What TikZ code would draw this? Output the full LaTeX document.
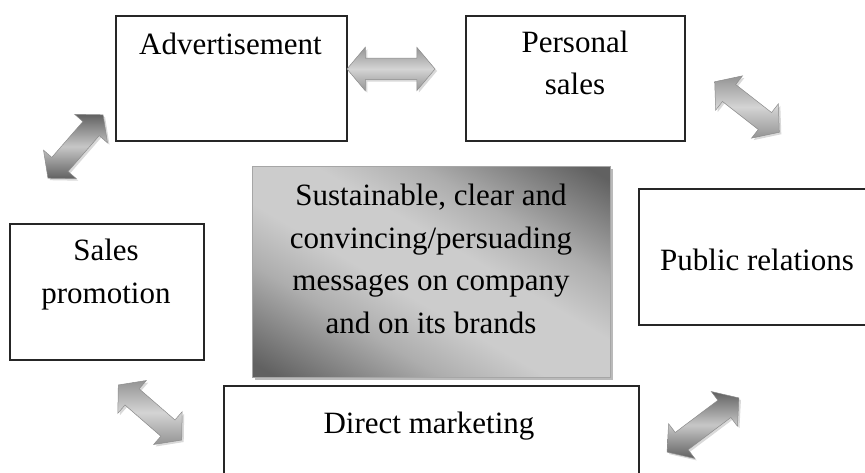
\documentclass[tikz,border=0pt]{standalone}
\usepackage{fontspec}
\setmainfont{Liberation Serif}
\usetikzlibrary{positioning, shapes.arrows, shadows}

\pgfdeclarehorizontalshading{msgshade}{100bp}{color(0bp)=(black!62); color(18bp)=(black!62);
  color(34bp)=(black!32); color(44bp)=(black!20); color(56bp)=(black!20);
  color(66bp)=(black!32); color(82bp)=(black!62); color(100bp)=(black!62)}

\tikzset{
  box/.style={draw=black!85, line width=1.6pt, fill=white, anchor=north west, inner sep=0pt},
  core/.style={draw=gray!70, line width=0.8pt, anchor=north west, inner sep=0pt,
    shading=msgshade, shading angle=59.5,
    drop shadow={shadow xshift=3pt, shadow yshift=-3pt, opacity=0.45, fill=black!60}},
  txt/.style={anchor=base, align=center, inner sep=0pt},
  dblarrow/.style={double arrow, draw=black!45, line width=0.5pt, inner xsep=0pt, inner ysep=10.5pt,
    double arrow head extend=11pt, double arrow tip angle=100,
    top color=black!42, bottom color=black!42, middle color=black!17,
    drop shadow={shadow xshift=2pt, shadow yshift=-2pt, opacity=0.3}},
  darkarrow/.style={dblarrow, top color=black!62, bottom color=black!62, middle color=black!22}
}

\begin{document}
\begin{tikzpicture}[x=1pt, y=-1pt, font=\fontsize{31}{42.5}\selectfont]
  \useasboundingbox (0,0) rectangle (865,473);
  % boxes
  \node[box, minimum width=231pt, minimum height=125pt] (adv) at (115,15) {};
  \node[box, minimum width=219pt, minimum height=125pt] (sales) at (465,15) {};
  \node[box, minimum width=240pt, minimum height=136pt] (pr) at (638,188) {};
  \node[box, minimum width=194pt, minimum height=136pt] (promo) at (9,223) {};
  \node[box, minimum width=415pt, minimum height=110pt] (direct) at (223,385) {};
  \node[core, minimum width=358pt, minimum height=211pt] (msg) at (252,166) {};
  % texts (base = last line)
  \node[txt] (adv_t) at (230.5,55) {Advertisement};
  \node[txt] (sales_t) at (575,95) {Personal\\sales};
  \node[txt] (pr_t) at (757,270) {Public relations};
  \node[txt] (promo_t) at (106,303) {Sales\\promotion};
  \node[txt] (direct_t) at (429,433) {Direct marketing};
  \node[txt] (msg_t) at (431,333) {Sustainable, clear and\\convincing/persuading\\messages on company\\and on its brands};
  % arrows
  \node[dblarrow, minimum height=88pt] (a_1) at (391,69) {};
  \node[dblarrow, minimum height=82pt, rotate=-38] (a_2) at (747,107) {};
  \node[darkarrow, minimum height=84pt, rotate=49] (a_3) at (75.5,146.5) {};
  \node[dblarrow, minimum height=84pt, rotate=-41] (a_4) at (150,412.5) {};
  \node[darkarrow, minimum height=90pt, rotate=37] (a_5) at (703,425) {};
\end{tikzpicture}
\end{document}
